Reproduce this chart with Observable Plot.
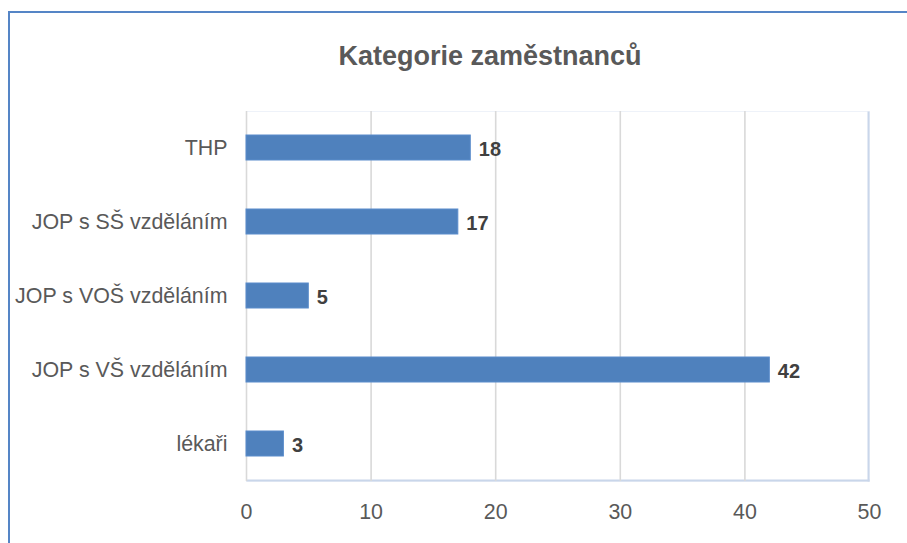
<!DOCTYPE html>
<html>
<head>
<meta charset="utf-8">
<script src="https://cdn.jsdelivr.net/npm/d3@7"></script>
<script src="https://cdn.jsdelivr.net/npm/@observablehq/plot@0.6"></script>
<style>
  html, body { margin: 0; padding: 0; background: #fff; }
  #wrap { position: relative; width: 907px; height: 543px; overflow: hidden; }
  #border { position: absolute; left: 8px; top: 11px; width: 1000px; height: 1000px;
    border-left: 2px solid #5585c6; border-top: 2px solid #5585c6; box-sizing: border-box; }
  #title { position: absolute; left: 490px; top: 43px; transform: translateX(-50%);
    font-family: "Liberation Sans", Arial, sans-serif; font-weight: bold; font-size: 27px;
    line-height: 27px; color: #595959; white-space: nowrap; }
  #chart { position: absolute; left: 0; top: 0; }
</style>
</head>
<body>
<div id="wrap">
  <div id="border"></div>
  <div id="chart"></div>
  <div id="title">Kategorie zaměstnanců</div>
</div>
<script>
const categories = ["THP", "JOP s SŠ vzděláním", "JOP s VOŠ vzděláním", "JOP s VŠ vzděláním", "lékaři"];
const values = [18, 17, 5, 42, 3];
const xTicks = [0, 10, 20, 30, 40, 50];

const data = categories.map((c, i) => ({category: c, value: values[i]}));

const chart = Plot.plot({
  width: 907,
  height: 543,
  marginLeft: 246,
  marginRight: 38,
  marginTop: 111,
  marginBottom: 62,
  style: {fontFamily: "'Liberation Sans', Arial, sans-serif", fontSize: "21.4px", color: "#595959", background: "transparent"},
  x: {domain: [0, 50], ticks: xTicks, tickSize: 0, tickPadding: 22, label: null},
  y: {domain: categories, paddingInner: 0.66, paddingOuter: 0.33, tickSize: 0, tickPadding: 19, label: null},
  marks: [
    Plot.frame({stroke: "#eef2f9", strokeWidth: 1}),
    Plot.frame({fill: "#c9d6ea", stroke: null, insetTop: 368}),
    Plot.frame({fill: "#c9d6ea", stroke: null, insetLeft: 621}),
    Plot.ruleX(xTicks.slice(0, -1), {stroke: "#d9d9d9", strokeWidth: 1.6}),
    Plot.barX(data, {x: "value", y: "category", fill: "#4f81bd", stroke: "#5a8ccb", strokeWidth: 1}),
    Plot.text(data, {x: "value", y: "category", text: d => String(d.value), dx: 8, dy: 1.5, textAnchor: "start",
      fontWeight: "bold", fontSize: 20, fill: "#404040"})
  ]
});
document.getElementById("chart").appendChild(chart);
</script>
</body>
</html>
